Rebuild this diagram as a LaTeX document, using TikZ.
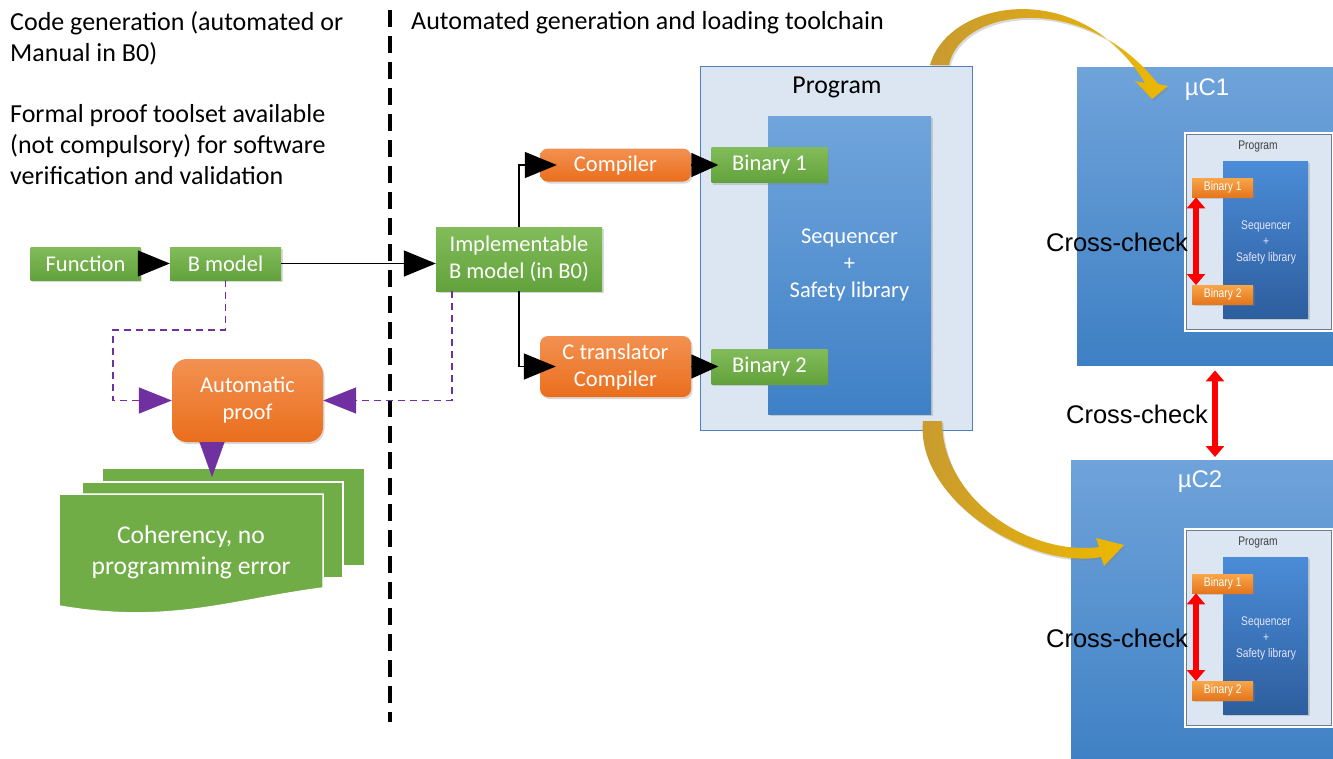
\documentclass[tikz,border=0pt]{standalone}
\usepackage{fontspec}
\setmainfont{Carlito}
\newfontfamily\arialfont{Liberation Sans}
\newfontfamily\narrowfont[FakeStretch=0.82]{Liberation Sans}
\usetikzlibrary{arrows.meta,shadows}

\definecolor{greentop}{HTML}{82BC5A}
\definecolor{greenbot}{HTML}{62A23C}
\definecolor{docgreen}{HTML}{70AD47}
\definecolor{orangetop}{HTML}{F39151}
\definecolor{orangebot}{HTML}{EA6E1C}
\definecolor{proofpurple}{HTML}{7030A0}
\definecolor{progfill}{HTML}{DCE6F2}
\definecolor{progline}{HTML}{4F7FBA}
\definecolor{seqtop}{HTML}{70A5DC}
\definecolor{seqbot}{HTML}{3F80C6}
\definecolor{mctop}{HTML}{6FA3DA}
\definecolor{mcbot}{HTML}{3E80C4}
\definecolor{smallseqtop}{HTML}{4B8CD8}
\definecolor{smallseqbot}{HTML}{2D5E9E}
\definecolor{smallbintop}{HTML}{F8A548}
\definecolor{smallbinbot}{HTML}{E5761C}
\definecolor{slate}{HTML}{6A7C96}
\definecolor{goldA}{HTML}{C89A30}
\definecolor{goldB}{HTML}{EDB800}

\begin{document}
\begin{tikzpicture}[x=1pt,y=-1pt,
  font=\fontsize{22.5}{27}\selectfont,
  shade/.style={drop shadow={opacity=.3,shadow xshift=1.5pt,shadow yshift=-2pt}},
  gbox/.style={shade,top color=greentop,bottom color=greenbot,text=white,inner sep=0pt,align=center},
  obox/.style={shade,top color=orangetop,bottom color=orangebot,text=white,rounded corners=8pt,inner sep=0pt,align=center},
  feed/.style={black,line width=1.4pt,-{Triangle[length=32pt,width=26pt]}},
  proofline/.style={proofpurple,line width=1.6pt,dash pattern=on 7pt off 5pt,-{Triangle[length=33pt,width=26pt]}},
  docsheet/.style={fill=docgreen,draw=white,line width=1.5pt},
  mcbox/.style={top color=mctop,bottom color=mcbot,inner sep=0pt},
  heading/.style={anchor=north west,inner sep=0pt,align=left,font=\fontsize{26}{31}\selectfont},
  smallbin/.style={shade,top color=smallbintop,bottom color=smallbinbot,text=white,inner sep=0pt,
    font=\narrowfont\fontsize{12.5}{15}\selectfont},
  crossarrow/.style={red,line width=6pt,{Triangle[length=11pt,width=18pt]}-{Triangle[length=11pt,width=18pt]}},
  crosstext/.style={font=\arialfont\fontsize{25.5}{30}\selectfont,inner sep=0pt}]

\useasboundingbox (0,0) rectangle (1333,758);
\clip (0,0) rectangle (1333,758);

% headings
\node[heading] (gen) at (10,11) {Code generation (automated or\\Manual in B0)};
\node[heading] (formal) at (10,104) {Formal proof toolset available\\(not compulsory) for software\\verification and validation};
\node[heading] (chain) at (411,11) {Automated generation and loading toolchain};
\draw[line width=3.5pt,dash pattern=on 17pt off 9pt] (390,10) -- (390,722);

% models
\node[gbox,minimum width=110pt,minimum height=33pt] (func) at (85.5,263.5) {Function};
\node[gbox,minimum width=111pt,minimum height=33pt] (bmod) at (225.5,263.5) {B model};
\node[gbox,minimum width=166pt,minimum height=64pt] (impl) at (519,259) {Implementable\\B model (in B0)};

% proof and result
\node[obox,rounded corners=15pt,minimum width=151pt,minimum height=83pt] (proof) at (247.5,400.5) {Automatic\\proof};
\filldraw[docsheet] (102,468) rectangle (365,566);
\filldraw[docsheet] (82,482) rectangle (343,578);
\filldraw[docsheet] (59,494) -- (323,494) -- (323,588)
  .. controls (230,600) and (170,625) .. (59,606) -- cycle;
\node[text=white,align=center,font=\fontsize{25.6}{31}\selectfont] (coh) at (191,552) {Coherency, no\\programming error};

% program
\node[fill=progfill,draw=progline,line width=1pt,minimum width=272pt,minimum height=364pt] (prog) at (836,248) {};
\node[font=\fontsize{25.8}{30}\selectfont] (progt) at (837,87) {Program};
\node[shade,top color=seqtop,bottom color=seqbot,text=white,align=center,minimum width=163pt,minimum height=298pt]
  (seq) at (849.5,265) {Sequencer\\+\\Safety library};
\node[obox,minimum width=151pt,minimum height=33pt] (comp) at (615.5,165) {Compiler};
\node[obox,minimum width=151pt,minimum height=61pt] (ctrans) at (615.5,366.5) {C translator\\Compiler};
\node[gbox,minimum width=116pt,minimum height=35pt] (bin1) at (769.5,165) {Binary 1};
\node[gbox,minimum width=116pt,minimum height=35pt] (bin2) at (769.5,366.5) {Binary 2};

\draw[feed] (func) -- (bmod);
\draw[feed] (bmod.east) -- (bmod.east -| impl.west);
\draw[feed] (impl.north) |- ([xshift=17pt]comp.west);
\draw[feed] (impl.south) |- ([xshift=16pt]ctrans.west);
\draw[black,line width=1.4pt,-{Triangle[length=27pt,width=24pt]}] (comp.east) -- ([xshift=7pt]bin1.west);
\draw[black,line width=1.4pt,-{Triangle[length=27pt,width=24pt]}] (ctrans.east) -- ([xshift=7pt]bin2.west);

\coordinate (lbend) at (113,330);
\coordinate (docin) at (212,477);
\draw[proofline] (bmod.south) |- (lbend) |- (proof.west);
\draw[proofline] ([xshift=-67pt]impl.south) |- (proof.east);
\draw[proofpurple,-{Triangle[length=35pt,width=25pt]}] ([xshift=-35.5pt]proof.south) -- (docin);

% microcontrollers
\node[mcbox,anchor=north west,minimum width=270pt,minimum height=298pt] (mc1) at (1077,67) {};
\node[mcbox,anchor=north west,minimum width=276pt,minimum height=310pt] (mc2) at (1071,460) {};
\node[text=white,font=\arialfont\fontsize{24}{28}\selectfont] (mc1t) at (1207,90) {µC1};
\node[text=white,font=\arialfont\fontsize{24}{28}\selectfont] (mc2t) at (1200,482) {µC2};

\foreach \n/\dy in {1/0,2/396} {
  \node[fill=progfill,draw=white,line width=2.5pt,anchor=north west,minimum width=147pt,minimum height=197pt]
    (iprog\n) at (1184,132+\dy) {};
  \draw[slate,line width=.8pt] ([shift={(2.5pt,-2.5pt)}]iprog\n.north west) rectangle ([shift={(-2.5pt,2.5pt)}]iprog\n.south east);
  \node[text=black!75,font=\narrowfont\fontsize{12.5}{15}\selectfont] (iprogt\n) at (1258,146+\dy) {Program};
  \node[shade,top color=smallseqtop,bottom color=smallseqbot,text=white!90!blue,align=center,anchor=north west,
    minimum width=85pt,minimum height=157pt,font=\narrowfont\fontsize{12.5}{16}\selectfont]
    (iseq\n) at (1223,161+\dy) {};
  \node[text=white!90!blue,align=center,font=\narrowfont\fontsize{12.5}{16}\selectfont]
    (iseqt\n) at (1266,242+\dy) {Sequencer\\+\\Safety library};
  \node[smallbin,anchor=north west,minimum width=61pt,minimum height=19pt] (ibina\n) at (1192,178+\dy) {Binary 1};
  \node[smallbin,anchor=north west,minimum width=61pt,minimum height=19pt] (ibinb\n) at (1192,285+\dy) {Binary 2};
  \draw[crossarrow] ([xshift=4pt]ibina\n.south west) -- ([xshift=4pt]ibinb\n.north west);
  \node[crosstext,anchor=east] (cc\n) at (1188,242+\dy) {Cross-check};
}
\draw[crossarrow] ([shift={(138pt,-5pt)}]mc1.south west) -- ([shift={(144pt,3pt)}]mc2.north west);
\node[crosstext,anchor=east] (ccmid) at (1208,414) {Cross-check};

% loading arrows
\shade[left color=goldA,right color=goldB] (930,65) .. controls (948,0) and (1080,-25) .. (1145,83)
  -- (1135,81) -- (1152,99) -- (1168,86) -- (1158,84)
  .. controls (1085,-10) and (960,8) .. (949,65) -- cycle;
\shade[left color=goldA,right color=goldB] (923,421) .. controls (915,500) and (1030,570) .. (1101,557)
  -- (1104,566) -- (1124,545) -- (1096,538) -- (1099,547)
  .. controls (1030,556) and (942,500) .. (942,421) -- cycle;

\end{tikzpicture}
\end{document}
